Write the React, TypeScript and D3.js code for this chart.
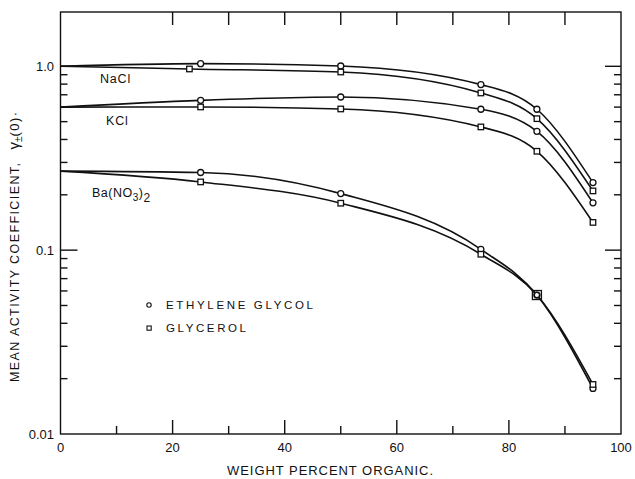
import React from "react";
import * as d3 from "d3";

const W = 635, H = 479;
const xTickLabels = [0, 20, 40, 60, 80, 100];
const yTickLabels = [
  { v: 1.0, t: "1.0" },
  { v: 0.1, t: "0.1" },
  { v: 0.01, t: "0.01" },
];
const xs = [0, 25, 50, 75, 85, 95];
const xsNaClGly = [0, 23, 50, 75, 85, 95];

const naclEG = [1.0, 1.034, 1.004, 0.795, 0.584, 0.233];
const naclGly = [1.0, 0.967, 0.931, 0.716, 0.519, 0.21];
const kclEG = [0.6, 0.653, 0.681, 0.584, 0.443, 0.181];
const kclGly = [0.6, 0.601, 0.586, 0.468, 0.345, 0.1415];
const baEG = [0.269, 0.2645, 0.203, 0.101, 0.057, 0.0177];
const baGly = [0.269, 0.235, 0.18, 0.095, 0.057, 0.0186];

const series = [
  { name: "NaCl-EG", x: xs, y: naclEG, marker: "circle" },
  { name: "NaCl-Gly", x: xsNaClGly, y: naclGly, marker: "square" },
  { name: "KCl-EG", x: xs, y: kclEG, marker: "circle" },
  { name: "KCl-Gly", x: xs, y: kclGly, marker: "square" },
  { name: "Ba-EG", x: xs, y: baEG, marker: "circle" },
  { name: "Ba-Gly", x: xs, y: baGly, marker: "square" },
];

const FONT = "'Liberation Sans', Arial, sans-serif";

export default function App() {
  const L = 60.5, R = 621, T = 12, B = 434;
  const x = d3.scaleLinear().domain([0, 100]).range([L, R]);
  const y = d3.scaleLog().domain([0.01, 1.0]).range([B, 66.3]);
  const line = d3
    .line<[number, number]>()
    .x((d) => x(d[0]))
    .y((d) => y(d[1]))
    .curve(d3.curveMonotoneX);

  const minorY: number[] = [];
  for (const dec of [0.01, 0.1]) for (let k = 2; k <= 9; k++) minorY.push(dec * k);
  const topTicks = d3.range(20, 100, 10);
  const botTicks = d3.range(10, 100, 10);

  return (
    <svg width={W} height={H} style={{ display: "block", position: "absolute", left: 0, top: 0 }}>
      <rect x={0} y={0} width={W} height={H} fill="white" />
      <g stroke="#111" strokeWidth={1.4} fill="none">
        <rect x={L} y={T} width={R - L} height={B - T} />
        {topTicks.map((t) => (
          <line key={"tt" + t} x1={x(t)} x2={x(t)} y1={T} y2={T + 13} />
        ))}
        {botTicks.map((t) => (
          <line key={"bt" + t} x1={x(t)} x2={x(t)} y1={B} y2={B - (t % 20 === 0 ? 14 : 8)} />
        ))}
        {minorY.map((v, i) => (
          <g key={"my" + i}>
            <line x1={L} x2={L + 7} y1={y(v)} y2={y(v)} />
            <line x1={R} x2={R - 7} y1={y(v)} y2={y(v)} />
          </g>
        ))}
        {[1.0, 0.1].map((v) => (
          <g key={"My" + v}>
            <line x1={L} x2={L + 17} y1={y(v)} y2={y(v)} />
            <line x1={R} x2={R - 16} y1={y(v)} y2={y(v)} />
          </g>
        ))}
      </g>
      <g stroke="#111" strokeWidth={1.6} fill="none">
        {series.map((s) => (
          <path key={s.name} d={line(s.x.map((xv, i) => [xv, s.y[i]]) as [number, number][]) || ""} />
        ))}
      </g>
      <g stroke="#111" strokeWidth={1.3} fill="white">
        {series.map((s) =>
          s.x.map((xv, i) => {
            if (i === 0) return null;
            const cx = x(xv), cy = y(s.y[i]);
            if (s.marker === "circle") return <circle key={s.name + i} cx={cx} cy={cy} r={3} />;
            const big = s.name === "Ba-Gly" && xv === 85;
            const sz = big ? 9 : 5.5;
            return (
              <rect key={s.name + i} x={cx - sz / 2} y={cy - sz / 2} width={sz} height={sz} fill={big ? "none" : "white"} />
            );
          })
        )}
        <circle cx={x(85)} cy={y(baEG[4])} r={2.6} />
      </g>
      <g fontFamily={FONT} fill="#111" fontSize={13}>
        {xTickLabels.map((t) => (
          <text key={"xl" + t} x={x(t)} y={452} textAnchor="middle">{t}</text>
        ))}
        {yTickLabels.map((d) => (
          <text key={"yl" + d.t} x={54} y={y(d.v) + 5} textAnchor="end">{d.t}</text>
        ))}
        <text x={227} y={475} fontSize={13} textLength={206} lengthAdjust="spacing">WEIGHT PERCENT ORGANIC.</text>
        <g transform="translate(19,382) rotate(-90)">
          <text x={0} y={0} fontSize={12.5}>
            <tspan textLength={219} lengthAdjust="spacing">MEAN ACTIVITY COEFFICIENT,</tspan>
            <tspan dx={12} fontSize={15}>γ</tspan>
            <tspan fontSize={10} dy={3}>±</tspan>
            <tspan dy={-3} fontSize={13} letterSpacing={1.5}>(0)·</tspan>
          </text>
        </g>
        <text x={100} y={83} fontSize={12.5} letterSpacing={0.8}>NaCl</text>
        <text x={106} y={125} fontSize={12.5} letterSpacing={0.8}>KCl</text>
        <text x={92} y={197} fontSize={12.5} letterSpacing={0.5}>
          Ba(NO<tspan dy={4} fontSize={10}>3</tspan><tspan dy={-4}>)</tspan><tspan dy={5} fontSize={12}>2</tspan>
        </text>
        <text x={166} y={309} fontSize={11.5} textLength={147} lengthAdjust="spacing">ETHYLENE GLYCOL</text>
        <text x={166} y={332} fontSize={11.5} textLength={80} lengthAdjust="spacing">GLYCEROL</text>
      </g>
      <g stroke="#111" strokeWidth={1.1} fill="white">
        <circle cx={149} cy={305} r={2.2} />
        <rect x={147} y={326} width={4.2} height={4.2} />
      </g>
    </svg>
  );
}
